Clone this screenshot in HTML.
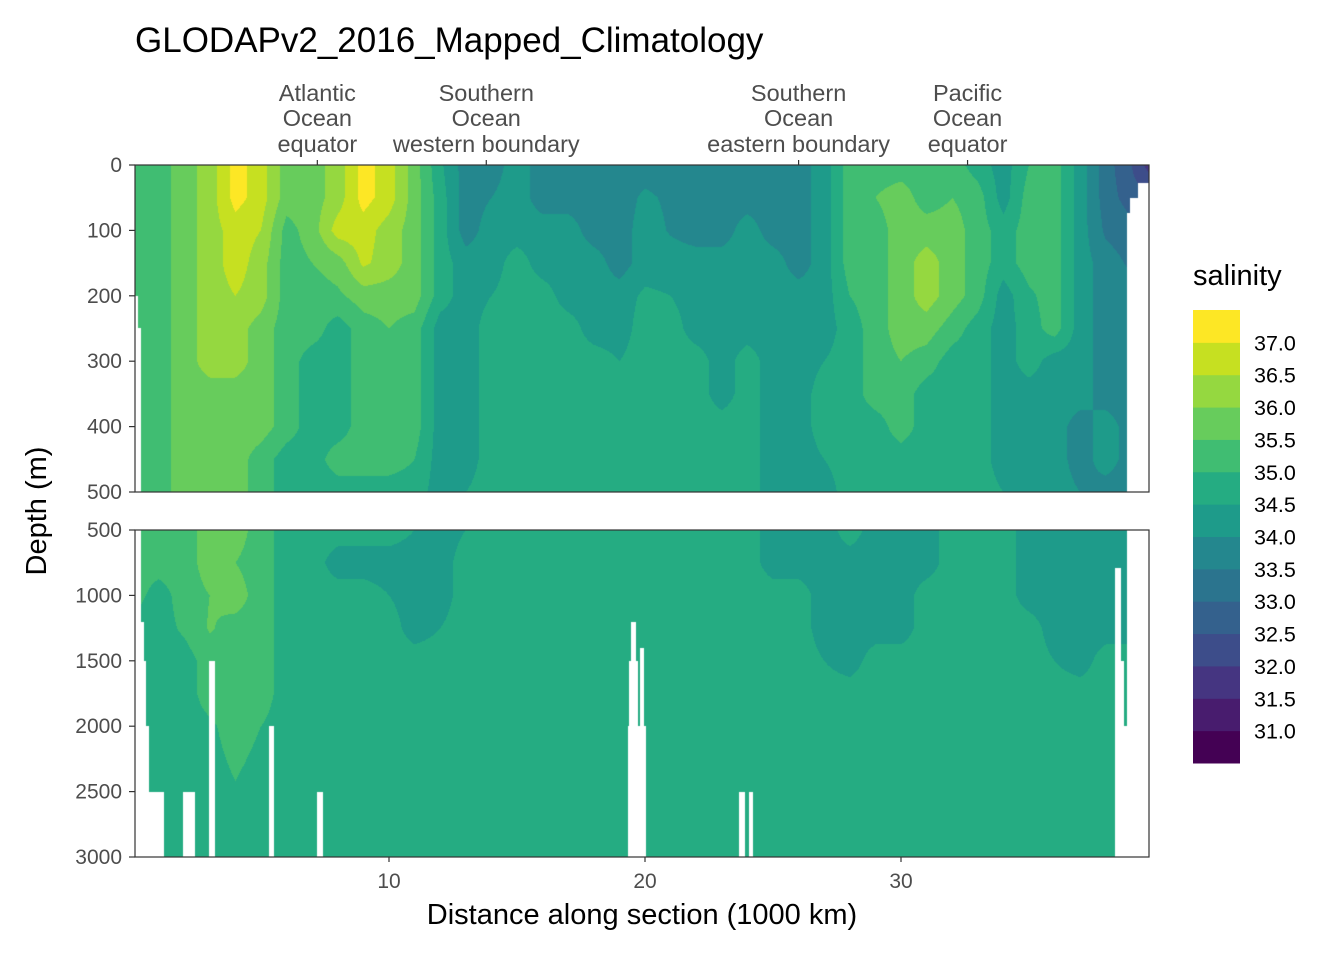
<!DOCTYPE html>
<html><head><meta charset="utf-8"><style>
body{margin:0;background:#fff;font-family:"Liberation Sans",sans-serif;}
#wrap{position:relative;width:1344px;height:960px;overflow:hidden;}
.t{position:absolute;white-space:nowrap;color:#4d4d4d;font-size:21px;}
canvas{position:absolute;}
</style></head><body>
<div id="wrap">
<div class="t" style="left:135px;top:21px;font-size:35px;color:#000;">GLODAPv2_2016_Mapped_Climatology</div>
<canvas id="cv" width="1344" height="960" style="left:0;top:0"></canvas>
<svg id="ov" width="1344" height="960" style="position:absolute;left:0;top:0"></svg>
</div>
<script>
// ---- data ----
const xNodes=[0,1,2,3,4,5,6,7,8,9,10,11,12,13,14,15,16,17,18,19,20,21,22,23,24,25,26,27,28,29,30,31,32,33,34,35,36,37,38,39,40];
const topDepths=[0,50,100,150,200,250,300,350,400,450,500];
const topSal=[
[35.25,35.25,35.75,36.25,37.2,36.75,35.75,35.75,36.25,37.2,36.75,35.75,34.6,33.75,33.75,34.25,33.75,33.75,33.75,33.75,33.75,33.75,33.75,33.75,33.75,33.75,33.75,34.25,35.25,35.25,35.25,35.25,35.25,34.75,34.25,35.0,35.25,34.25,33.25,32.5,31.5],
[35.25,35.25,35.75,36.25,37.2,36.75,35.75,35.75,36.25,37.2,36.75,35.75,34.75,33.75,34.0,34.25,33.75,33.75,33.75,33.75,34.1,33.9,33.75,33.75,33.75,33.75,33.75,34.25,35.25,35.5,35.75,35.25,35.5,35.25,34.25,35.25,35.25,34.25,33.25,32.75,32.5],
[35.25,35.25,35.75,36.25,36.75,36.5,35.3,35.75,36.75,36.75,36.25,35.75,34.75,33.75,34.25,34.25,34.25,34.25,33.75,33.75,34.25,33.95,33.75,33.75,34.25,33.75,33.75,34.25,35.25,35.25,35.75,35.75,35.75,35.25,34.75,35.25,35.25,34.25,33.4,33.2,33.2],
[35.25,35.25,35.75,36.25,36.75,36.25,35.25,35.5,35.75,36.6,36.25,35.75,34.75,34.25,34.25,34.75,34.25,34.25,34.25,33.75,34.25,34.25,34.25,34.25,34.25,34.25,33.75,34.25,35.25,35.25,35.75,36.25,35.75,35.25,34.75,35.25,35.25,34.25,33.75,33.4,33.4],
[35.25,35.25,35.75,36.25,36.5,36.25,35.25,35.25,35.4,35.75,35.75,35.75,34.75,34.25,34.5,34.75,34.75,34.25,34.25,34.25,34.6,34.5,34.25,34.25,34.25,34.25,34.25,34.25,35.0,35.25,35.75,36.25,35.75,35.25,34.25,34.9,35.25,34.25,33.75,33.75,33.75],
[35.25,35.25,35.75,36.25,36.25,35.75,35.25,35.25,34.75,35.25,35.5,35.25,34.25,34.25,34.75,34.75,34.75,34.75,34.25,34.25,34.75,34.75,34.25,34.25,34.25,34.25,34.25,34.25,34.75,35.25,35.75,35.75,35.25,34.75,34.25,34.75,35.25,34.25,33.75,33.75,33.75],
[35.25,35.25,35.75,36.25,36.25,35.75,35.25,34.75,34.75,35.25,35.25,35.25,34.25,34.25,34.75,34.75,34.75,34.75,34.75,34.5,34.75,34.75,34.75,34.25,34.75,34.25,34.25,34.5,34.75,35.25,35.5,35.25,34.75,34.75,34.25,34.75,34.25,34.25,33.75,33.75,33.75],
[35.25,35.25,35.75,35.75,35.75,35.75,35.25,34.75,34.75,35.25,35.25,35.25,34.25,34.25,34.75,34.75,34.75,34.75,34.75,34.75,34.75,34.75,34.75,34.25,34.75,34.25,34.25,34.75,34.75,35.25,35.25,34.75,34.75,34.75,34.25,34.25,34.25,34.25,33.75,33.75,33.75],
[35.25,35.25,35.75,35.75,35.75,35.75,35.25,34.75,34.75,35.25,35.25,35.25,34.25,34.25,34.75,34.75,34.75,34.75,34.75,34.75,34.75,34.75,34.75,34.75,34.75,34.25,34.25,34.75,34.75,34.75,35.25,34.75,34.75,34.75,34.25,34.25,34.25,33.75,34.25,33.75,33.75],
[35.25,35.25,35.75,35.75,35.75,35.25,34.75,34.75,35.25,35.25,35.25,35.0,34.25,34.25,34.75,34.75,34.75,34.75,34.75,34.75,34.75,34.75,34.75,34.75,34.75,34.25,34.25,34.5,34.75,34.75,34.75,34.75,34.75,34.75,34.25,34.25,34.25,33.75,34.25,33.75,33.75],
[35.25,35.25,35.75,35.75,35.75,35.25,34.75,34.75,34.75,34.75,34.75,34.75,34.25,34.5,34.75,34.75,34.75,34.75,34.75,34.75,34.75,34.75,34.75,34.75,34.75,34.25,34.25,34.25,34.75,34.75,34.75,34.75,34.75,34.75,34.5,34.25,34.25,34.0,33.75,33.75,33.75]
];
const botDepths=[500,750,1000,1250,1500,1750,2000,2500,3000];
const botSal=[
[35.25,35.25,35.25,35.75,35.75,35.25,34.75,34.75,34.75,34.75,34.75,34.5,34.25,34.5,34.75,34.75,34.75,34.75,34.75,34.75,34.75,34.75,34.75,34.75,34.75,34.25,34.25,34.25,34.75,34.25,34.25,34.25,34.75,34.75,34.75,34.25,34.25,34.25,34.25,34.25,34.25],
[35.25,35.25,35.25,35.75,35.5,35.25,34.75,34.75,34.25,34.25,34.25,34.25,34.25,34.75,34.75,34.75,34.75,34.75,34.75,34.75,34.75,34.75,34.75,34.75,34.75,34.25,34.25,34.25,34.25,34.25,34.25,34.25,34.75,34.75,34.75,34.25,34.25,34.25,34.25,34.25,34.25],
[35.25,34.75,35.25,35.5,35.75,35.25,34.75,34.75,34.75,34.75,34.5,34.25,34.25,34.75,34.75,34.75,34.75,34.75,34.75,34.75,34.75,34.75,34.75,34.75,34.75,34.75,34.75,34.25,34.25,34.25,34.25,34.75,34.75,34.75,34.75,34.25,34.25,34.25,34.25,34.25,34.25],
[34.75,34.75,35.1,35.55,35.3,35.25,34.75,34.75,34.75,34.75,34.75,34.25,34.5,34.75,34.75,34.75,34.75,34.75,34.75,34.75,34.75,34.75,34.75,34.75,34.75,34.75,34.75,34.25,34.25,34.25,34.25,34.75,34.75,34.75,34.75,34.75,34.25,34.25,34.25,34.25,34.25],
[34.75,34.75,34.75,35.25,35.25,35.25,34.75,34.75,34.75,34.75,34.75,34.75,34.75,34.75,34.75,34.75,34.75,34.75,34.75,34.75,34.75,34.75,34.75,34.75,34.75,34.75,34.75,34.5,34.25,34.75,34.75,34.75,34.75,34.75,34.75,34.75,34.5,34.25,34.75,34.75,34.75],
[34.75,34.75,34.75,35.25,35.25,35.25,34.75,34.75,34.75,34.75,34.75,34.75,34.75,34.75,34.75,34.75,34.75,34.75,34.75,34.75,34.75,34.75,34.75,34.75,34.75,34.75,34.75,34.75,34.75,34.75,34.75,34.75,34.75,34.75,34.75,34.75,34.75,34.75,34.75,34.75,34.75],
[34.75,34.75,34.75,34.9,35.25,35.0,34.75,34.75,34.75,34.75,34.75,34.75,34.75,34.75,34.75,34.75,34.75,34.75,34.75,34.75,34.75,34.75,34.75,34.75,34.75,34.75,34.75,34.75,34.75,34.75,34.75,34.75,34.75,34.75,34.75,34.75,34.75,34.75,34.75,34.75,34.75],
[34.75,34.75,34.75,34.75,34.95,34.75,34.75,34.75,34.75,34.75,34.75,34.75,34.75,34.75,34.75,34.75,34.75,34.75,34.75,34.75,34.75,34.75,34.75,34.75,34.75,34.75,34.75,34.75,34.75,34.75,34.75,34.75,34.75,34.75,34.75,34.75,34.75,34.75,34.75,34.75,34.75],
[34.75,34.75,34.75,34.75,34.75,34.75,34.75,34.75,34.75,34.75,34.75,34.75,34.75,34.75,34.75,34.75,34.75,34.75,34.75,34.75,34.75,34.75,34.75,34.75,34.75,34.75,34.75,34.75,34.75,34.75,34.75,34.75,34.75,34.75,34.75,34.75,34.75,34.75,34.75,34.75,34.75]
];
// missing-data gaps (distance start, distance end, depth below which missing)
const gapX0=[0,0,0,0,0,0,1.97,2.97,5.31,7.19,19.45,19.39,19.8,19.33,23.67,24.06,38.36,38.59,38.71,38.82,38.94,39.27];
const gapX1=[0.18,0.31,0.44,0.51,0.62,1.21,2.42,3.2,5.49,7.42,19.65,19.74,19.96,20.04,23.9,24.22,38.59,38.71,38.84,40,40,40];
const gapD=[200,250,1200,1500,2000,2500,2500,1500,2000,2500,1200,1500,1400,2000,2500,2500,790,1500,2000,74,51,28];
const breaks=[31,31.5,32,32.5,33,33.5,34,34.5,35,35.5,36,36.5,37];
const binColors=['#440154','#481C6E','#453581','#3D4D8A','#34618D','#2B748E','#24878E','#1E9B8A','#25AC82','#40BD72','#67CC5C','#95D840','#C6E021','#FDE725'];
const topTicks=[0,100,200,300,400,500];
const botTicks=[500,1000,1500,2000,2500,3000];
const xTicks=[10,20,30];
const secPos=[7.2,13.8,26.0,32.6];
const secLabels=[["Atlantic","Ocean","equator"],["Southern","Ocean","western boundary"],["Southern","Ocean","eastern boundary"],["Pacific","Ocean","equator"]];

// ---- scales ----
const PL=135,PR=1149,TT=165,TB=492,BT=530,BB=857;
const sx=x=>133+25.6*x;
const syTop=d=>165+d*0.654;
const syBot=d=>530+(d-500)*0.1308;
const ivx=px=>(px-133)/25.6;

function interp(grid,depths,x,d){
  let i=Math.min(Math.max(Math.floor(x),0),xNodes.length-2);
  let fx=(x-xNodes[i])/(xNodes[i+1]-xNodes[i]);fx=Math.max(0,Math.min(1,fx));
  let j=0;while(j<depths.length-2&&d>depths[j+1])j++;
  let fy=(d-depths[j])/(depths[j+1]-depths[j]);fy=Math.max(0,Math.min(1,fy));
  const a=grid[j][i],b=grid[j][i+1],c=grid[j+1][i],e=grid[j+1][i+1];
  return (a*(1-fx)+b*fx)*(1-fy)+(c*(1-fx)+e*fx)*fy;
}
function isGap(x,d){for(let k=0;k<gapX0.length;k++){if(x>=gapX0[k]&&x<gapX1[k]&&d>=gapD[k])return true;}return false;}
function bin(v){let k=0;while(k<breaks.length&&v>=breaks[k])k++;return k;}
const rgb=binColors.map(h=>[parseInt(h.substr(1,2),16),parseInt(h.substr(3,2),16),parseInt(h.substr(5,2),16)]);

const cv=document.getElementById('cv');const ctx=cv.getContext('2d');
function drawPanel(grid,depths,y0,y1,toDepth){
  const w=PR-PL,h=y1-y0;const img=ctx.createImageData(w,h);
  for(let py=0;py<h;py++){const d=toDepth(y0+py+0.5);
    for(let px=0;px<w;px++){const x=ivx(PL+px+0.5);const o=(py*w+px)*4;
      if(isGap(x,d)){img.data[o]=255;img.data[o+1]=255;img.data[o+2]=255;img.data[o+3]=255;continue;}
      const c=rgb[bin(interp(grid,depths,x,d))];
      img.data[o]=c[0];img.data[o+1]=c[1];img.data[o+2]=c[2];img.data[o+3]=255;}}
  ctx.putImageData(img,PL,y0);
}
drawPanel(topSal,topDepths,TT,TB,py=>(py-165)/0.654);
drawPanel(botSal,botDepths,BT,BB,py=>500+(py-530)/0.1308);

// ---- overlay ----
const NS='http://www.w3.org/2000/svg';const ov=document.getElementById('ov');
function mk(tag,attrs,parent){const e=document.createElementNS(NS,tag);for(const k in attrs)e.setAttribute(k,attrs[k]);(parent||ov).appendChild(e);return e;}
function txt(s,x,y,anchor,size,fill){const t=mk('text',{x:x,y:y,'text-anchor':anchor,'font-size':size,fill:fill||'#4d4d4d','font-family':'Liberation Sans, sans-serif'});t.textContent=s;return t;}
let r=mk('rect',{x:PL,y:TT,width:PR-PL,height:TB-TT,fill:'none',stroke:'#333','stroke-width':1.2});

r=mk('rect',{x:PL,y:BT,width:PR-PL,height:BB-BT,fill:'none',stroke:'#333','stroke-width':1.2});

topTicks.forEach(v=>{const y=syTop(v);const l=mk('line',{x1:129,x2:PL,y1:y,y2:y,stroke:'#333','stroke-width':1.2});
 
 const t=txt(String(v),122,y+7,'end',21);});
botTicks.forEach(v=>{const y=syBot(v);const l=mk('line',{x1:129,x2:PL,y1:y,y2:y,stroke:'#333','stroke-width':1.2});
 
 const t=txt(String(v),122,y+7,'end',21);});
xTicks.forEach(v=>{const x=sx(v);const l=mk('line',{x1:x,x2:x,y1:BB,y2:BB+5,stroke:'#333','stroke-width':1.2});
 
 const t=txt(String(v),x,888,'middle',21);});
secPos.forEach((v,i)=>{const x=sx(v);const l=mk('line',{x1:x,x2:x,y1:TT-5,y2:TT,stroke:'#333','stroke-width':1.2});
 
 secLabels[i].forEach((s,j)=>{const t=txt(s,x,[101,126,152][j],'middle',23.5);});});
let t=txt('Distance along section (1000 km)',642,924,'middle',29,'#000');
t=txt('Depth (m)',0,0,'middle',29,'#000');t.setAttribute('transform','translate(46,511) rotate(-90)');
t=txt('salinity',1193,285,'start',29,'#000');
const LT=310,LB=763,bh=(LB-LT)/binColors.length;
binColors.forEach((c,i)=>{const y=LB-(i+1)*bh;const rr=mk('rect',{x:1193,y:y,width:47,height:bh+0.5,fill:c});
 });
breaks.forEach((b,i)=>{const y=LB-(i+1)*bh;const tt=txt(b.toFixed(1),1254,y+8,'start',21.5,'#000');
 });
</script>
</body></html>
